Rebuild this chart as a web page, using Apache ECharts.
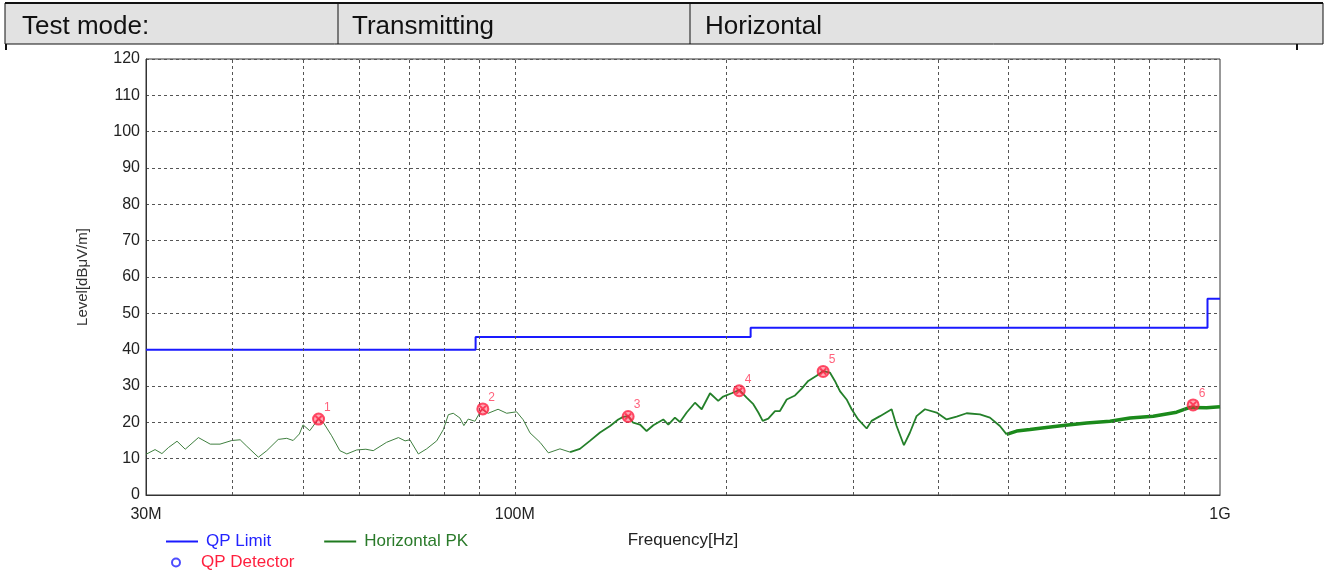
<!DOCTYPE html>
<html><head><meta charset="utf-8">
<script src="https://cdn.jsdelivr.net/npm/echarts@6/dist/echarts.min.js"></script>
<style>html,body{margin:0;padding:0;background:#fff}#c{width:1325px;height:572px}</style>
</head><body><div id="c"></div>
<script>
// ---------- data ----------
const headerCells = ['Test mode:', 'Transmitting', 'Horizontal'];

const pkFreqMHz = [30, 30.9, 31.6, 32.3, 33.2, 34.1, 35.6, 37.0, 38.2, 39.7, 40.8, 41.7, 43.3, 44.5, 46.2, 47.5, 48.5, 49.5,
  50.1, 51.2, 52.7, 53.5, 55.0, 56.5, 57.8, 59.7, 61.5, 63.0, 65.8, 68.4, 69.9, 71.0, 73.0, 75.0, 77.5, 79.2, 80.5, 81.8,
  83.6, 84.7, 85.9, 87.8, 89.8, 91.7, 94.7, 97.4, 100.6, 102.8, 105.1, 108.6, 111.6, 115.9, 119.8, 123.7, 127.8, 132.1,
  136.5, 140.2, 142.5, 144.8, 147.2, 150.5, 153.8, 157.2, 162.4, 165.1, 168.7, 171.5, 175.3, 180.1, 184.1, 189.2, 194.3,
  197.5, 203.0, 208.1, 213.2, 217.9, 221.5, 224.7, 228.8, 233.9, 237.7, 243.0, 249.7, 255.2, 260.7, 267.9, 273.7, 279.8,
  284.4, 289.1, 295.5, 300.4, 306.9, 315.5, 320.6, 329.5, 342.3, 347.9, 356.3, 363.4, 371.3, 381.6, 396.4, 409.6, 423.2,
  437.2, 456.7, 471.8, 487.4, 498.2, 514.8, 537.7, 555.6, 599.4, 647.1, 698.2, 745.5, 804.2, 867.9, 906.4, 957.2, 1000];
const pkLevel = [11.2, 12.5, 11.4, 13.1, 14.8, 12.6, 15.8, 14.0, 14.0, 15.0, 15.2, 13.4, 10.4, 12.2, 15.3, 15.6, 15.0, 16.8,
  19.3, 17.7, 21.0, 20.0, 16.3, 12.2, 11.3, 12.4, 12.6, 12.2, 14.5, 15.8, 14.9, 15.2, 11.3, 12.7, 14.9, 18.0, 22.1, 22.5,
  21.2, 19.1, 20.9, 20.3, 23.6, 22.5, 23.6, 22.5, 22.9, 20.7, 17.1, 14.5, 11.6, 12.7, 11.8, 12.7, 14.9, 17.2,
  19.0, 20.8, 21.5, 21.7, 19.9, 19.4, 17.6, 19.2, 20.8, 19.4, 21.3, 20.1, 22.7, 25.4, 23.6, 28.0, 25.9,
  27.1, 28.0, 28.9, 26.8, 25.0, 22.7, 20.4, 21.0, 23.1, 23.1, 26.3, 27.4, 29.3, 31.4, 32.8, 34.1, 33.7,
  31.4, 28.6, 26.3, 23.6, 20.8, 18.3, 20.4, 21.7, 23.6, 19.0, 13.7, 17.2, 21.7, 23.6, 22.7, 20.8, 21.6,
  22.5, 22.2, 21.3, 19.0, 16.7, 17.6, 18.0, 18.4, 19.1, 19.8, 20.3, 21.2, 21.7, 22.8, 24.1, 24.0, 24.3];

const limitFreqMHz = [30, 88, 88, 216, 216, 960, 960, 1000];
const limitLevel = [40, 40, 43.5, 43.5, 46, 46, 54, 54];

const qpFreqMHz = [52.7, 90.1, 144.8, 208.1, 273.7, 916];
const qpLevel = [20.9, 23.7, 21.6, 28.7, 34.0, 24.8];
const qpLabels = ['1', '2', '3', '4', '5', '6'];

const gridFreqMHz = [40, 50, 60, 70, 80, 90, 100, 200, 300, 400, 500, 600, 700, 800, 900];
const xTickFreqMHz = [30, 100, 1000];
const xTickLabels = ['30M', '100M', '1G'];

// ---------- build ----------
const lg = Math.log10;
const FONT = 'Liberation Sans, Arial, sans-serif';
const pkPts = pkFreqMHz.map((f, i) => [lg(f), pkLevel[i]]);
const seg = (a, b) => pkPts.filter((p, i) => pkFreqMHz[i] >= a && pkFreqMHz[i] <= b);
const limitPts = limitFreqMHz.map((f, i) => [lg(f), limitLevel[i]]);
const qpPts = qpFreqMHz.map((f, i) => [lg(f), qpLevel[i]]);
const xTickVals = xTickFreqMHz.map(lg);

const chart = echarts.init(document.getElementById('c'), null, {renderer: 'canvas'});
const pkBase = {type: 'line', name: 'Horizontal PK', symbol: 'none', showSymbol: false, z: 3, animation: false};
const option = {
  animation: false,
  backgroundColor: '#fff',
  textStyle: {fontFamily: FONT},
  grid: {left: 146, right: 105, top: 59, bottom: 77, show: true, borderColor: '#333', borderWidth: 1, backgroundColor: '#fff'},
  xAxis: {
    type: 'value', min: lg(30), max: 3,
    axisLine: {show: true, lineStyle: {color: '#333'}},
    axisTick: {show: false},
    splitLine: {show: false},
    axisLabel: {
      customValues: xTickVals, showMinLabel: true, showMaxLabel: true,
      fontSize: 16, color: '#222', margin: 12, fontFamily: FONT,
      formatter: v => {
        let best = 0, d = 1e9;
        xTickVals.forEach((t, i) => { if (Math.abs(t - v) < d) { d = Math.abs(t - v); best = i; } });
        return xTickLabels[best];
      }
    },
    name: 'Frequency[Hz]', nameLocation: 'middle', nameGap: 37,
    nameTextStyle: {fontSize: 17, color: '#222', fontFamily: FONT}
  },
  yAxis: {
    type: 'value', min: 0, max: 120, interval: 10,
    axisLine: {show: true, lineStyle: {color: '#333'}},
    axisTick: {show: false},
    axisLabel: {fontSize: 16, color: '#222', margin: 6, fontFamily: FONT},
    splitLine: {show: true, lineStyle: {type: [3, 3], color: '#555', width: 1}},
    name: 'Level[dBμV/m]', nameLocation: 'middle', nameGap: 56,
    nameTextStyle: {fontSize: 15, color: '#333', fontFamily: FONT}
  },
  legend: [
    {
      left: 161, top: 528, itemWidth: 32, itemHeight: 2, itemGap: 53, icon: 'rect',
      textStyle: {fontSize: 17, fontFamily: FONT, padding: [0, 0, 0, 3]},
      data: [
        {name: 'QP Limit', icon: 'rect', itemStyle: {color: '#1a1aff'}, textStyle: {color: '#2323ff'}},
        {name: 'Horizontal PK', icon: 'rect', itemStyle: {color: '#1f7a1f'}, textStyle: {color: '#2a7a2a'}}
      ]
    },
    {
      left: 166, top: 549, itemWidth: 24, itemHeight: 8, itemGap: 10,
      textStyle: {fontSize: 17, fontFamily: FONT, padding: [0, 0, 0, 8]},
      data: [
        {name: 'QP Detector', icon: 'circle',
         itemStyle: {color: '#fff', borderColor: '#2020ff', borderWidth: 2},
         textStyle: {color: '#ff1f3d'}}
      ]
    }
  ],
  graphic: [
    {type: 'rect', shape: {x: 5, y: 3, width: 1318, height: 41}, style: {fill: '#e2e2e2', stroke: '#111', lineWidth: 1}, z: 0},
    {type: 'line', shape: {x1: 5, y1: 3, x2: 1323, y2: 3}, style: {stroke: '#111', lineWidth: 2}},
    {type: 'line', shape: {x1: 338, y1: 3, x2: 338, y2: 44}, style: {stroke: '#111', lineWidth: 1}},
    {type: 'line', shape: {x1: 690, y1: 3, x2: 690, y2: 44}, style: {stroke: '#111', lineWidth: 1}},
    {type: 'line', shape: {x1: 6, y1: 44, x2: 6, y2: 50}, style: {stroke: '#111', lineWidth: 2}},
    {type: 'line', shape: {x1: 1297, y1: 44, x2: 1297, y2: 50}, style: {stroke: '#111', lineWidth: 2}},
    {type: 'text', left: 22, top: 14, style: {text: headerCells[0], font: '26px ' + FONT, fill: '#111'}},
    {type: 'text', left: 352, top: 14, style: {text: headerCells[1], font: '26px ' + FONT, fill: '#111'}},
    {type: 'text', left: 705, top: 14, style: {text: headerCells[2], font: '26px ' + FONT, fill: '#111'}}
  ],
  series: [
    {
      type: 'line', name: 'gridHelper', data: [], silent: true, z: 1,
      markLine: {
        silent: true, symbol: ['none', 'none'], label: {show: false}, animation: false,
        lineStyle: {type: [3, 3], color: '#555', width: 1},
        data: gridFreqMHz.map(f => ({xAxis: lg(f)}))
      }
    },
    {
      type: 'line', name: 'QP Limit', data: limitPts, symbol: 'none', showSymbol: false, z: 2,
      lineStyle: {color: '#1a1aff', width: 2}, itemStyle: {color: '#1a1aff'}
    },
    Object.assign({}, pkBase, {data: seg(30, 120), lineStyle: {color: '#3f7f3f', width: 1}, itemStyle: {color: '#1f7a1f'}}),
    Object.assign({}, pkBase, {data: seg(119, 500), lineStyle: {color: '#24802a', width: 1.8}, itemStyle: {color: '#1f7a1f'}}),
    Object.assign({}, pkBase, {data: seg(497, 1000), lineStyle: {color: '#1b8a1b', width: 3.5}, itemStyle: {color: '#1f7a1f'}}),
    {
      type: 'scatter', name: 'QP Detector', data: qpPts, symbol: 'circle', symbolSize: 11, z: 5,
      itemStyle: {color: 'rgba(255,40,70,0.5)', borderColor: '#ff2244', borderWidth: 2},
      label: {show: true, position: [12, -11], formatter: p => qpLabels[p.dataIndex], color: '#ff3a5a', fontSize: 12, fontFamily: FONT}
    },
    {
      type: 'scatter', name: 'QP Detector X', data: qpPts, symbol: 'path://M0,0L10,10M10,0L0,10', symbolSize: 6, z: 6,
      itemStyle: {color: 'transparent', borderColor: '#ff2244', borderWidth: 2}
    }
  ]
};
chart.setOption(option);
</script>
</body></html>
